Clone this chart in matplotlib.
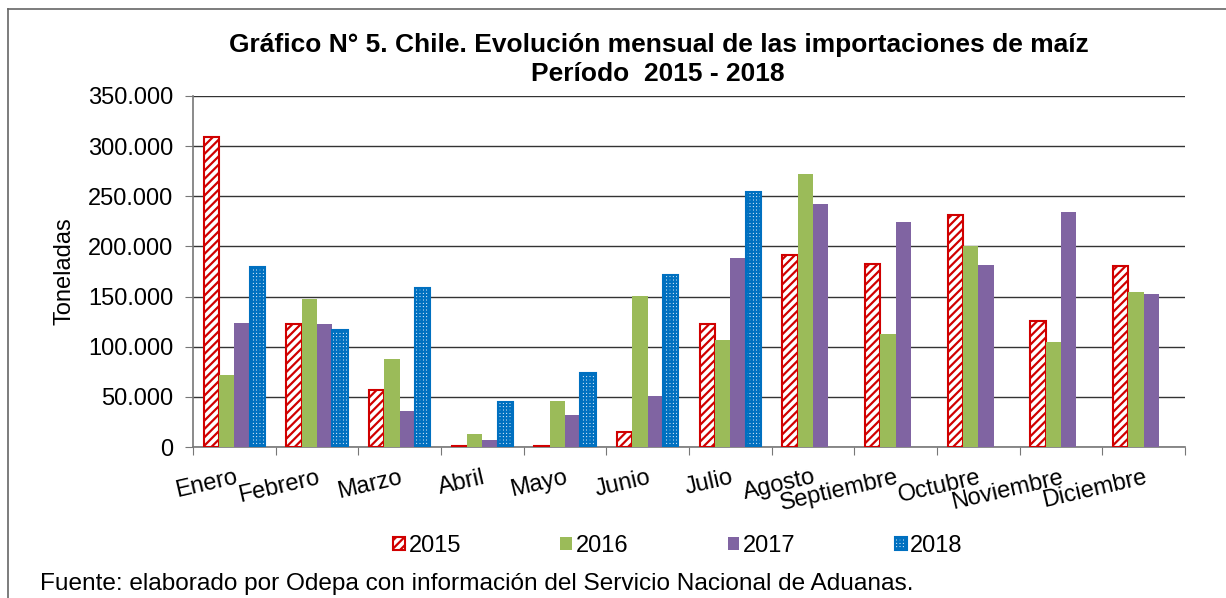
import numpy as np
import matplotlib
matplotlib.use("Agg")
import matplotlib.pyplot as plt
from matplotlib.patches import Patch
from matplotlib.lines import Line2D

plt.rcParams['font.family'] = ['Liberation Sans', 'DejaVu Sans']
plt.rcParams['hatch.linewidth'] = 1.6

months = ["Enero", "Febrero", "Marzo", "Abril", "Mayo", "Junio", "Julio",
          "Agosto", "Septiembre", "Octubre", "Noviembre", "Diciembre"]
v2015 = [309000, 123000, 57000, 1000, 1000, 15000, 122500, 191000, 182000, 231000, 126000, 180000]
v2016 = [72000, 147500, 88000, 13000, 46000, 150500, 107000, 272500, 113000, 200000, 105000, 154500]
v2017 = [124000, 122500, 36000, 7000, 32000, 51000, 188500, 242000, 224000, 181000, 234000, 152500]
v2018 = [179000, 117000, 158500, 45000, 74000, 172000, 254000, np.nan, np.nan, np.nan, np.nan, np.nan]
years = ["2015", "2016", "2017", "2018"]
yticks = [0, 50000, 100000, 150000, 200000, 250000, 300000, 350000]
ytick_labels = ["0", "50.000", "100.000", "150.000", "200.000", "250.000", "300.000", "350.000"]

RED = "#D00000"
GREEN = "#9BBB59"
PURPLE = "#8064A2"
BLUE = "#0070C0"

W, H = 1226, 598
fig = plt.figure(figsize=(W / 100, H / 100), dpi=100)
ax = fig.add_axes([193 / W, 1 - 447 / H, (1185 - 193) / W, (447 - 96) / H])

x = np.arange(len(months))
bw = 0.185
offs = np.array([-1.5, -0.5, 0.5, 1.5]) * bw

ax.bar(x + offs[0], v2015, bw, facecolor="white", edgecolor=RED, hatch="////", linewidth=1.5, zorder=3)
ax.bar(x + offs[1], v2016, bw, color=GREEN, zorder=3)
ax.bar(x + offs[2], v2017, bw, color=PURPLE, zorder=3)
ax.bar(x + offs[3], v2018, bw, facecolor="white", edgecolor=BLUE, hatch="+++++", linewidth=1.5, zorder=3)

ax.set_xlim(-0.5, 11.5)
ax.set_ylim(0, 350000)
ax.set_yticks(yticks)
ax.set_yticklabels(ytick_labels, fontsize=17)
ax.yaxis.grid(True, color="#333333", linewidth=1.0, zorder=0)
ax.set_axisbelow(True)

ax.set_xticks(np.arange(13) - 0.5)
ax.set_xticklabels([])
ax.set_xticks(x, minor=True)
ax.set_xticklabels(months, minor=True, fontsize=17, rotation=13, ha="right",
                   rotation_mode="anchor")
ax.tick_params(axis="x", which="minor", length=0, pad=14)
ax.tick_params(axis="x", which="major", length=6, color="#777777", direction="out")
ax.tick_params(axis="y", length=6, color="#777777", direction="out", pad=8)

for s in ["top", "right"]:
    ax.spines[s].set_visible(False)
for s in ["left", "bottom"]:
    ax.spines[s].set_color("#777777")
    ax.spines[s].set_linewidth(1.2)

ax.set_ylabel("Toneladas", fontsize=17, labelpad=9)

fig.text(659 / W, 1 - 45 / H, "Gráfico N° 5. Chile. Evolución mensual de las importaciones de maíz",
         ha="center", va="center", fontsize=19, fontweight="bold")
fig.text(658 / W, 1 - 74 / H, "Período  2015 - 2018",
         ha="center", va="center", fontsize=19, fontweight="bold")

handles = [
    Patch(facecolor="white", edgecolor=RED, hatch="////", linewidth=1.5),
    Patch(facecolor=GREEN),
    Patch(facecolor=PURPLE),
    Patch(facecolor="white", edgecolor=BLUE, hatch="+++++", linewidth=1.5),
]
fig.legend(handles, years, loc="center", bbox_to_anchor=(678 / W, 1 - 546 / H), ncol=4,
           frameon=False, fontsize=17, handlelength=0.5, handleheight=0.5,
           handletextpad=0.15, columnspacing=4.2)

fig.text(40 / W, 1 - 584 / H, "Fuente: elaborado por Odepa con información del Servicio Nacional de Aduanas.",
         ha="left", va="center", fontsize=17.6)

# outer border (top and left visible, rest cropped)
fig.add_artist(Line2D([8 / W, 1.0], [1 - 9 / H, 1 - 9 / H], color="#666666", linewidth=1.2))
fig.add_artist(Line2D([8 / W, 8 / W], [1 - 9 / H, 0.0], color="#666666", linewidth=1.2))

fig.savefig("out.png", dpi=100)
